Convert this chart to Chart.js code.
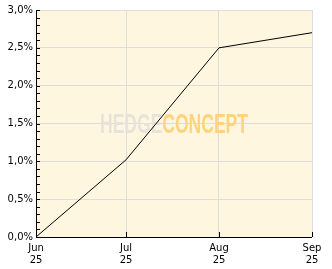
<!DOCTYPE html>
<html>
<head>
<meta charset="utf-8">
<script src="https://cdn.jsdelivr.net/npm/chart.js@4/dist/chart.umd.min.js"></script>
<style>
  html, body { margin: 0; padding: 0; background: #fff; }
  #wrap { width: 332px; height: 269px; }
</style>
</head>
<body>
<div id="wrap"><canvas id="myChart" width="332" height="269"></canvas></div>
<script>
// months on the x axis, and their day offset from 1 Jun
const months = [['Jun', '25'], ['Jul', '25'], ['Aug', '25'], ['Sep', '25']];
const dayOffsets = [0, 30, 61, 92];
// performance in %
const perf = [0.0, 1.02, 2.5, 2.7];
const yTicks = [0, 0.5, 1, 1.5, 2, 2.5, 3];

const fontBase = { family: 'DejaVu Sans', size: 10 };

// cream background + watermark + inner ticks
const decor = {
  id: 'decor',
  beforeDraw(chart) {
    const { ctx, chartArea: a } = chart;
    ctx.save();
    ctx.fillStyle = '#fff6df';
    ctx.fillRect(a.left, a.top, a.right - a.left, a.bottom - a.top);
    ctx.restore();
  },
  beforeDatasetsDraw(chart) {
    const { ctx, chartArea: a } = chart;
    ctx.save();
    ctx.font = 'bold 27px "Liberation Sans"';
    ctx.textBaseline = 'alphabetic';
    const w1 = ctx.measureText('HEDGE').width;
    const w2 = ctx.measureText('CONCEPT').width;
    const sx = 148 / (w1 + w2);
    ctx.translate(100, 133);
    ctx.scale(sx, 1);
    ctx.fillStyle = '#e7e3dc';
    ctx.fillText('HEDGE', 0, 0);
    ctx.fillStyle = '#fdd47c';
    ctx.fillText('CONCEPT', w1, 0);
    ctx.restore();

    // axis lines + small ticks pointing inwards
    const x = chart.scales.x, y = chart.scales.y;
    ctx.save();
    ctx.strokeStyle = '#000';
    ctx.lineWidth = 1;
    ctx.beginPath();
    for (let v = 0; v <= 30; v++) {
      const py = Math.round(y.getPixelForValue(v / 10)) + 0.5;
      ctx.moveTo(a.left, py);
      ctx.lineTo(a.left + 4, py);
    }
    dayOffsets.forEach(d => {
      const px = Math.round(x.getPixelForValue(d)) + 0.5;
      ctx.moveTo(px, a.bottom);
      ctx.lineTo(px, a.bottom - 5);
    });
    ctx.moveTo(a.left + 0.5, a.top);
    ctx.lineTo(a.left + 0.5, a.bottom + 0.5);
    ctx.lineTo(a.right, a.bottom + 0.5);
    ctx.stroke();
    ctx.restore();
  }
};

new Chart(document.getElementById('myChart'), {
  type: 'line',
  data: {
    datasets: [{
      data: dayOffsets.map((d, i) => ({ x: d, y: perf[i] })),
      borderColor: '#000',
      borderWidth: 1,
      pointRadius: 0,
      tension: 0,
      fill: false
    }]
  },
  options: {
    responsive: false,
    animation: false,
    layout: { padding: { top: 10, right: 20, left: 0, bottom: 0 } },
    plugins: { legend: { display: false }, tooltip: { enabled: false } },
    scales: {
      x: {
        type: 'linear',
        min: 0,
        max: 92,
        afterBuildTicks: s => { s.ticks = dayOffsets.map(v => ({ value: v })); },
        afterFit: s => { s.height = 32; },
        ticks: {
          autoSkip: false,
          maxRotation: 0,
          padding: 5,
          color: '#000',
          font: fontBase,
          callback: (v) => months[dayOffsets.indexOf(v)]
        },
        grid: { color: '#dddddd', drawTicks: false },
        border: { display: false }
      },
      y: {
        min: 0,
        max: 3,
        afterBuildTicks: s => { s.ticks = yTicks.map(v => ({ value: v })); },
        afterFit: s => { s.width = 36; },
        ticks: {
          padding: 3,
          color: '#000',
          font: fontBase,
          callback: v => v.toFixed(1).replace('.', ',') + '%'
        },
        grid: { color: '#dddddd', drawTicks: false },
        border: { display: false }
      }
    }
  },
  plugins: [decor]
});
</script>
</body>
</html>
